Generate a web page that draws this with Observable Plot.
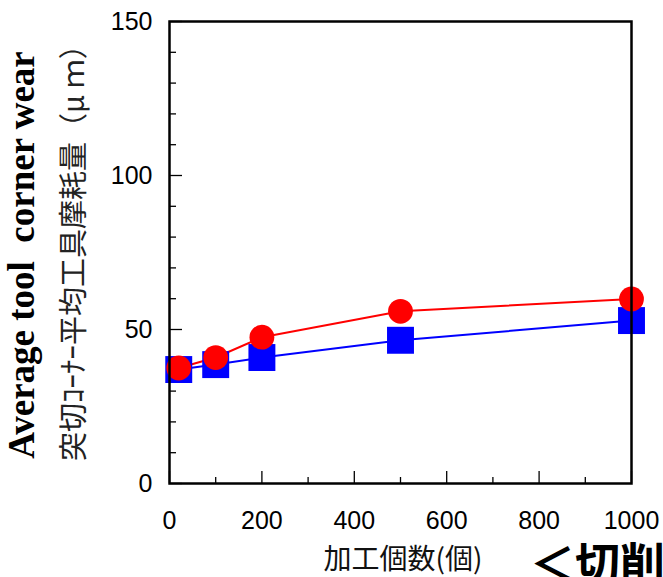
<!DOCTYPE html>
<html><head><meta charset="utf-8">
<script src="https://cdn.jsdelivr.net/npm/d3@7"></script>
<script src="https://cdn.jsdelivr.net/npm/@observablehq/plot@0.6"></script>
<style>body{margin:0;background:#fff;overflow:hidden}</style>
</head><body><div id="chart"></div>
<script>
const counts = [20, 100, 200, 500, 1000];
const blueWear = [37.0, 38.6, 40.9, 46.5, 52.9];
const redWear = [37.5, 40.9, 47.5, 55.9, 59.9];
const xMajor = [0, 200, 400, 600, 800, 1000];
const xMinor = [100, 300, 500, 700, 900];
const yMajor = [0, 50, 100, 150];
const yMinor = [10, 20, 30, 40, 60, 70, 80, 90, 110, 120, 130, 140];
const yTitleEn = "Average tool  corner wear";
const yTitleJa = "突切ｺｰﾅｰ平均工具摩耗量（μ ｍ）";
const xTitle = "加工個数(個)";
const cornerText = "＜切削";

const blue = counts.map((c, i) => ({x: c, y: blueWear[i]}));
const red = counts.map((c, i) => ({x: c, y: redWear[i]}));

const plot = Plot.plot({
  width: 663, height: 577,
  marginLeft: 169, marginRight: 32, marginTop: 21, marginBottom: 94,
  style: {fontFamily: "'Liberation Sans', Arial, sans-serif", fontSize: "25px", color: "#000", background: "#fff"},
  x: {domain: [0, 1000]},
  y: {domain: [0, 150]},
  marks: [
    Plot.axisX(xMajor, {tickSize: -12, tickPadding: 40, tickFormat: d => String(d), strokeWidth: 1.3, fontSize: 25, label: null}),
    Plot.axisX(xMinor, {tickSize: -6, tickFormat: () => "", strokeWidth: 1.3, label: null}),
    Plot.axisY(yMajor, {tickSize: -13, tickPadding: 30, tickFormat: d => String(d), strokeWidth: 1.3, fontSize: 25, label: null}),
    Plot.axisY(yMinor, {tickSize: -7, tickFormat: () => "", strokeWidth: 1.3, label: null}),
    Plot.line(blue, {x: "x", y: "y", stroke: "#0000ff", strokeWidth: 2}),
    Plot.line(red, {x: "x", y: "y", stroke: "#ff0000", strokeWidth: 2}),
    Plot.dot(blue, {x: "x", y: "y", symbol: "square", r: 15.2, fill: "#0000ff", stroke: "none"}),
    Plot.dot(red, {x: "x", y: "y", symbol: "circle", r: 12.4, fill: "#ff0000", stroke: "none"}),
    Plot.frame({stroke: "#000", strokeWidth: 2.5})
  ]
});
document.getElementById("chart").appendChild(plot);

const svg = d3.select(plot);
svg.append("text")
  .attr("transform", "translate(34,255) rotate(-90)")
  .attr("text-anchor", "middle")
  .style("font-family", "'Liberation Serif', 'Times New Roman', serif")
  .style("font-weight", "bold")
  .style("font-size", "37px")
  .style("white-space", "pre")
  .attr("fill", "#000")
  .text(yTitleEn);
svg.append("text")
  .attr("transform", "translate(84,461) rotate(-90)")
  .attr("text-anchor", "start")
  .style("font-family", "'Noto Sans CJK JP', sans-serif")
  .style("font-size", "29px")
  .style("white-space", "pre")
  .attr("fill", "#222")
  .text(yTitleJa);
svg.append("text")
  .attr("x", 403).attr("y", 569)
  .attr("text-anchor", "middle")
  .style("font-family", "'Noto Sans CJK JP', sans-serif")
  .style("font-size", "28px")
  .attr("fill", "#111")
  .text(xTitle);
svg.append("text")
  .attr("x", 530).attr("y", 581)
  .attr("text-anchor", "start")
  .style("font-family", "'Noto Sans CJK JP', sans-serif")
  .style("font-weight", "bold")
  .style("font-size", "45px")
  .attr("fill", "#000")
  .text(cornerText);
</script>
</body></html>
